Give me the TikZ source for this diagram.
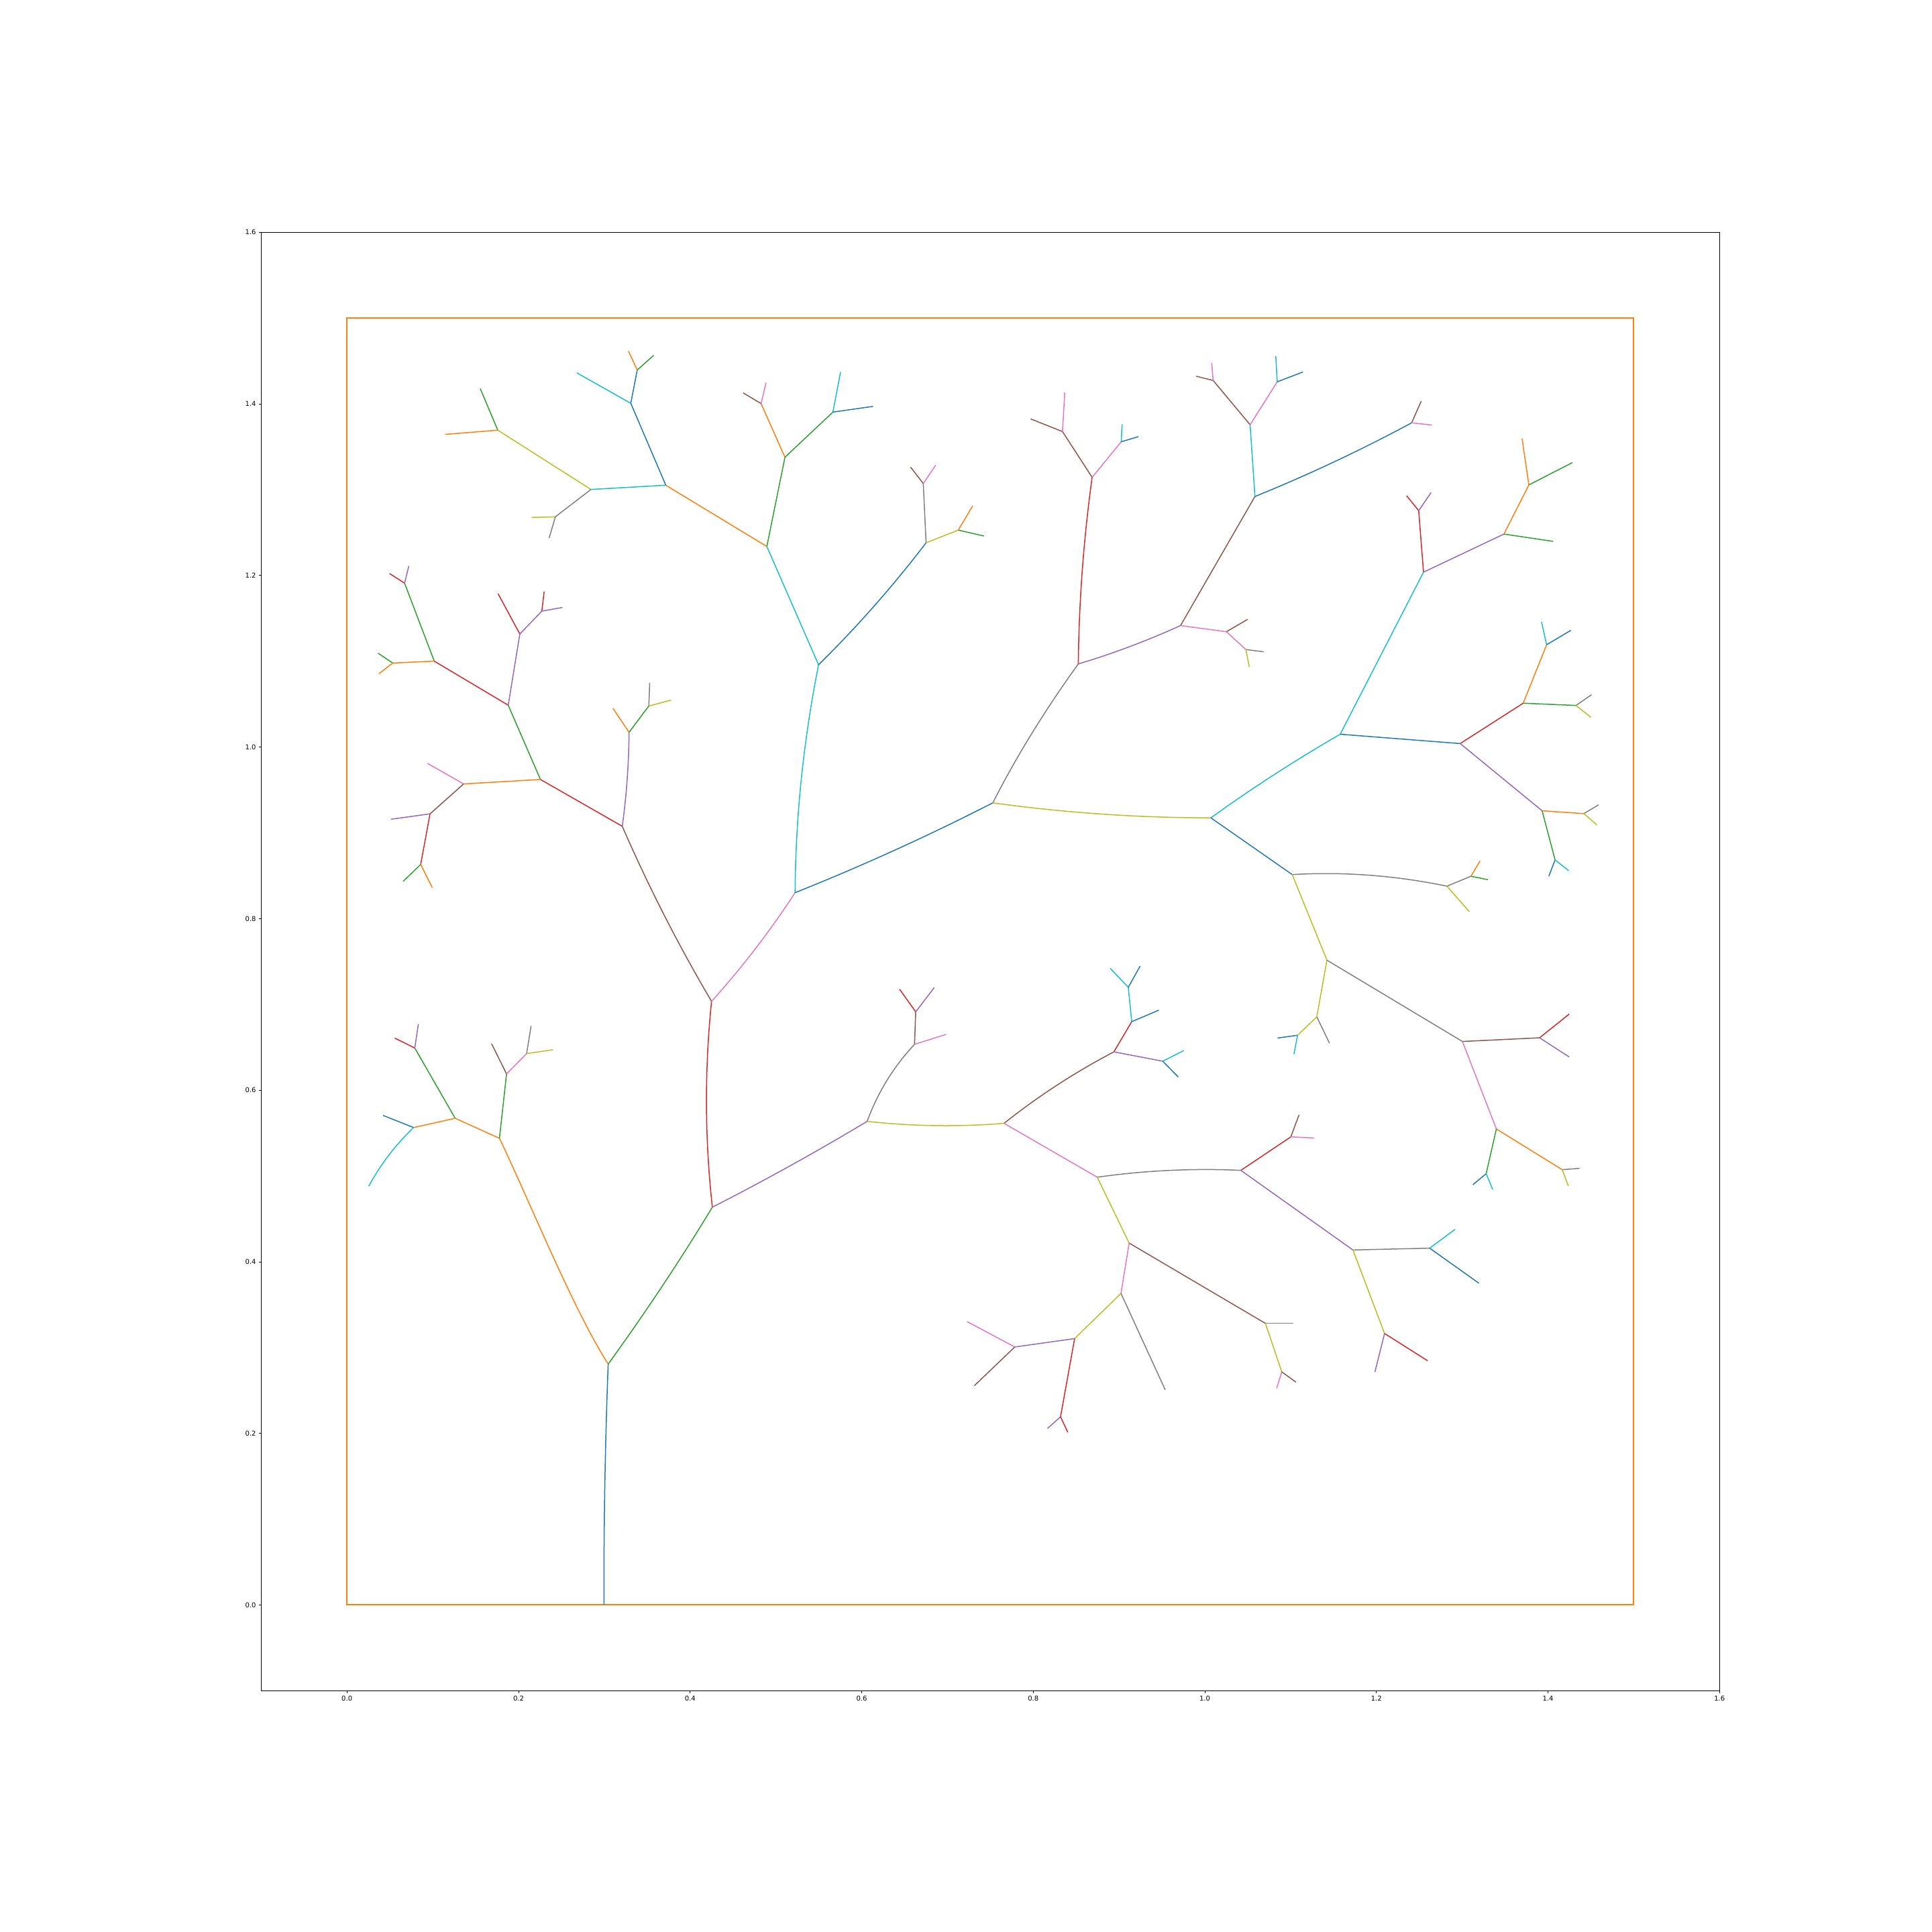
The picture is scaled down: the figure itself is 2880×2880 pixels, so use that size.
\documentclass[tikz,border=0pt]{standalone}
\usepackage{fontspec}
\setmainfont{DejaVu Sans}
\usetikzlibrary{calc}
\definecolor{tabB}{HTML}{1F77B4}
\definecolor{tabO}{HTML}{FF7F0E}
\definecolor{tabG}{HTML}{2CA02C}
\definecolor{tabR}{HTML}{D62728}
\definecolor{tabP}{HTML}{9467BD}
\definecolor{tabN}{HTML}{8C564B}
\definecolor{tabK}{HTML}{E377C2}
\definecolor{tabY}{HTML}{7F7F7F}
\definecolor{tabL}{HTML}{BCBD22}
\definecolor{tabC}{HTML}{17BECF}
\tikzset{
  edg/.style={line width=0.15mm},
  eB/.style={edg,draw=tabB}, eO/.style={edg,draw=tabO}, eG/.style={edg,draw=tabG},
  eR/.style={edg,draw=tabR}, eP/.style={edg,draw=tabP}, eN/.style={edg,draw=tabN},
  eK/.style={edg,draw=tabK}, eY/.style={edg,draw=tabY}, eL/.style={edg,draw=tabL},
  eC/.style={edg,draw=tabC},
  axln/.style={line width=0.08mm,draw=black},
  ticklab/.style={inner sep=0pt,font=\fontsize{2.85pt}{3.4pt}\selectfont,text=black}
}
% quadratic curve: style, from, quadratic control, to
\newcommand\qcurve[4]{\draw[#1] (#2) .. controls ($(#2)!0.6667!(#3)$) and ($(#4)!0.6667!(#3)$) .. (#4);}
\begin{document}
\begin{tikzpicture}[x=0.1mm,y=-0.1mm]
\path[use as bounding box,fill=white] (0,0) rectangle (2880,2880);
% axes frame
\draw[axln] (389.3,346.3) rectangle (2563.3,2520.3);
\foreach \lab [count=\k from 0] in {0.0,0.2,0.4,0.6,0.8,1.0,1.2,1.4,1.6}{
  \draw[axln] ({517.2+255.76*\k},2520.3) -- ({517.2+255.76*\k},2523.8);
  \node[ticklab,anchor=north] (xl\k) at ({517.2+255.76*\k},2527.3) {\lab};
  \draw[axln] (389.3,{2392.4-255.76*\k}) -- (385.8,{2392.4-255.76*\k});
  \node[ticklab,anchor=east] (yl\k) at (382.3,{2392.4-255.76*\k}) {\lab};
}
% orange bounding box
\draw[line width=0.2mm,draw=tabO] (517.2,474.2) rectangle (2435.4,2392.4);
% coordinates
\coordinate (R0) at (900.3,2391.8);
\coordinate (P54) at (906.6,2033.4);
\coordinate (P52) at (744.5,1696.8);
\coordinate (P56) at (1061.9,1799.5);
\coordinate (P50) at (678.5,1667.0);
\coordinate (P53) at (755.1,1600.9);
\coordinate (P49) at (618.3,1562.2);
\coordinate (P51) at (616.6,1680.8);
\coordinate (L8) at (588.4,1547.4);
\coordinate (L9) at (623.7,1526.4);
\coordinate (L10) at (571.1,1662.7);
\coordinate (L11) at (549.7,1768.2);
\coordinate (L12) at (732.8,1555.8);
\coordinate (P55) at (785.0,1570.6);
\coordinate (L14) at (791.7,1529.3);
\coordinate (L15) at (824.5,1564.7);
\coordinate (P46) at (1060.7,1492.7);
\coordinate (P74) at (1292.6,1671.6);
\coordinate (P44) at (927.6,1231.7);
\coordinate (P57) at (1185.2,1330.7);
\coordinate (P35) at (805.6,1161.9);
\coordinate (P42) at (937.7,1091.6);
\coordinate (P36) at (757.6,1051.2);
\coordinate (P45) at (691.1,1168.6);
\coordinate (P39) at (647.3,985.5);
\coordinate (P37) at (774.9,945.1);
\coordinate (P38) at (603.1,869.3);
\coordinate (P40) at (585.4,988.4);
\coordinate (L28) at (580.8,855.0);
\coordinate (L29) at (609.4,843.7);
\coordinate (L30) at (563.6,973.7);
\coordinate (L31) at (564.8,1004.4);
\coordinate (L32) at (742.4,884.9);
\coordinate (P41) at (807.7,911.0);
\coordinate (L34) at (811.1,882.0);
\coordinate (L35) at (838.4,905.5);
\coordinate (L36) at (637.2,1137.9);
\coordinate (P47) at (641.0,1213.2);
\coordinate (L38) at (582.9,1221.2);
\coordinate (P48) at (627.1,1288.6);
\coordinate (L40) at (601.0,1313.8);
\coordinate (L41) at (644.4,1323.1);
\coordinate (L42) at (913.7,1055.8);
\coordinate (P43) at (967.2,1052.4);
\coordinate (L44) at (968.5,1017.9);
\coordinate (L45) at (1000.5,1043.6);
\coordinate (P10) at (1220.2,991.0);
\coordinate (P58) at (1479.9,1196.8);
\coordinate (P4) at (1143.1,814.6);
\coordinate (P11) at (1380.5,809.1);
\coordinate (P1) at (992.5,723.3);
\coordinate (P8) at (1170.1,681.6);
\coordinate (P2) at (880.9,729.6);
\coordinate (P3) at (940.3,601.2);
\coordinate (P5) at (742.0,641.2);
\coordinate (P6) at (827.9,770.4);
\coordinate (L56) at (715.9,579.3);
\coordinate (L57) at (663.7,647.5);
\coordinate (L58) at (792.5,771.3);
\coordinate (L59) at (818.6,802.0);
\coordinate (L60) at (859.9,555.8);
\coordinate (P7) at (949.9,551.6);
\coordinate (L62) at (936.9,523.4);
\coordinate (L63) at (974.4,529.7);
\coordinate (Q1) at (1134.5,601.6);
\coordinate (P9) at (1241.6,614.3);
\coordinate (L66) at (1107.8,585.6);
\coordinate (L67) at (1141.9,570.5);
\coordinate (L68) at (1253.0,554.5);
\coordinate (L69) at (1301.4,605.8);
\coordinate (P12) at (1376.3,720.8);
\coordinate (P13) at (1428.5,790.2);
\coordinate (L72) at (1357.4,696.3);
\coordinate (L73) at (1394.8,693.4);
\coordinate (L74) at (1450.0,754.0);
\coordinate (L75) at (1466.8,799.0);
\coordinate (P14) at (1607.4,989.7);
\coordinate (P59) at (1805.0,1219.1);
\coordinate (P15) at (1628.0,711.5);
\coordinate (P18) at (1759.8,932.5);
\coordinate (P16) at (1583.8,643.3);
\coordinate (P17) at (1671.4,658.5);
\coordinate (L82) at (1536.3,624.4);
\coordinate (L83) at (1587.2,585.2);
\coordinate (L84) at (1672.7,632.4);
\coordinate (L85) at (1697.1,650.9);
\coordinate (P20) at (1870.7,740.1);
\coordinate (P19) at (1828.2,941.7);
\coordinate (L88) at (1859.8,923.2);
\coordinate (P21) at (1857.2,968.2);
\coordinate (L90) at (1883.7,971.6);
\coordinate (L91) at (1862.3,994.3);
\coordinate (P22) at (1863.5,633.2);
\coordinate (P23) at (2104.3,630.3);
\coordinate (P24) at (1808.4,567.1);
\coordinate (P25) at (1903.9,569.2);
\coordinate (L96) at (1783.1,560.8);
\coordinate (L97) at (1806.3,541.0);
\coordinate (L98) at (1901.8,530.9);
\coordinate (L99) at (1942.2,554.5);
\coordinate (L100) at (2118.6,597.9);
\coordinate (L101) at (2134.6,633.6);
\coordinate (P26) at (1997.8,1094.5);
\coordinate (P60) at (1926.3,1303.7);
\coordinate (P27) at (2122.0,852.9);
\coordinate (P31) at (2176.7,1108.4);
\coordinate (P28) at (2114.8,761.2);
\coordinate (P29) at (2241.9,796.1);
\coordinate (L108) at (2096.7,738.9);
\coordinate (L109) at (2133.3,734.2);
\coordinate (P30) at (2279.0,722.9);
\coordinate (L111) at (2315.2,807.0);
\coordinate (L112) at (2268.9,653.8);
\coordinate (L113) at (2343.8,689.6);
\coordinate (P32) at (2270.6,1048.2);
\coordinate (P71) at (2298.8,1208.6);
\coordinate (P33) at (2305.5,961.1);
\coordinate (P34) at (2349.3,1051.6);
\coordinate (L118) at (2297.9,927.0);
\coordinate (L119) at (2341.7,939.6);
\coordinate (L120) at (2372.4,1035.6);
\coordinate (L121) at (2371.6,1069.3);
\coordinate (P72) at (2361.0,1212.8);
\coordinate (P73) at (2318.1,1281.8);
\coordinate (L124) at (2382.9,1199.8);
\coordinate (L125) at (2380.4,1229.6);
\coordinate (L126) at (2308.8,1306.2);
\coordinate (L127) at (2338.3,1297.8);
\coordinate (P61) at (2156.9,1321.0);
\coordinate (P62) at (1978.0,1431.3);
\coordinate (P63) at (2192.7,1306.2);
\coordinate (L131) at (2190.2,1358.9);
\coordinate (L132) at (2206.2,1283.5);
\coordinate (L133) at (2217.9,1311.3);
\coordinate (P64) at (1962.9,1515.8);
\coordinate (P65) at (2180.0,1552.5);
\coordinate (P66) at (1934.3,1543.2);
\coordinate (L137) at (1981.8,1555.0);
\coordinate (L138) at (1904.4,1547.4);
\coordinate (L139) at (1928.8,1571.4);
\coordinate (P67) at (2295.0,1547.0);
\coordinate (P68) at (2230.6,1682.9);
\coordinate (L142) at (2339.2,1511.6);
\coordinate (L143) at (2339.2,1575.6);
\coordinate (P69) at (2328.8,1743.6);
\coordinate (P70) at (2215.4,1749.5);
\coordinate (L146) at (2354.7,1741.6);
\coordinate (L147) at (2337.9,1767.8);
\coordinate (L148) at (2195.6,1766.0);
\coordinate (L149) at (2225.1,1773.1);
\coordinate (P75) at (1363.3,1556.7);
\coordinate (P76) at (1496.7,1674.5);
\coordinate (P77) at (1365.0,1508.3);
\coordinate (L153) at (1410.4,1541.9);
\coordinate (L154) at (1341.0,1474.6);
\coordinate (L155) at (1392.7,1472.1);
\coordinate (P78) at (1660.4,1568.0);
\coordinate (P79) at (1635.6,1754.8);
\coordinate (P80) at (1687.0,1523.0);
\coordinate (P81) at (1733.3,1581.9);
\coordinate (P82) at (1681.9,1471.7);
\coordinate (L161) at (1727.4,1505.8);
\coordinate (L162) at (1655.0,1443.5);
\coordinate (L163) at (1699.6,1440.1);
\coordinate (L164) at (1764.8,1565.9);
\coordinate (L165) at (1756.4,1605.5);
\coordinate (P83) at (1849.7,1744.6);
\coordinate (P84) at (1683.2,1853.0);
\coordinate (P92) at (1924.2,1694.7);
\coordinate (P91) at (2016.8,1863.3);
\coordinate (L170) at (1936.4,1661.9);
\coordinate (L171) at (1959.1,1696.4);
\coordinate (P93) at (2131.2,1860.6);
\coordinate (P94) at (2063.9,1987.8);
\coordinate (L174) at (2169.1,1832.5);
\coordinate (L175) at (2204.5,1912.8);
\coordinate (L176) at (2049.6,2045.0);
\coordinate (L177) at (2128.3,2028.5);
\coordinate (P89) at (1886.3,1972.7);
\coordinate (P85) at (1671.0,1928.0);
\coordinate (L180) at (1927.5,1972.7);
\coordinate (P90) at (1910.7,2045.0);
\coordinate (L182) at (1903.1,2069.5);
\coordinate (L183) at (1931.7,2060.2);
\coordinate (P86) at (1601.9,1995.4);
\coordinate (L185) at (1737.0,2071.8);
\coordinate (P87) at (1512.7,2007.9);
\coordinate (P88) at (1580.9,2111.9);
\coordinate (L188) at (1441.6,1970.0);
\coordinate (L189) at (1452.5,2065.5);
\coordinate (L190) at (1561.5,2129.4);
\coordinate (L191) at (1591.8,2135.2);
% edges
\qcurve{eB}{R0}{899.8,2212.6}{P54}
\draw[eO] (P54) .. controls (852.9,1949.1) and (787.9,1786.9) .. (P52);
\qcurve{eG}{P54}{991.1,1916.5}{P56}
\draw[eO] (P52) -- (P50);
\draw[eG] (P52) -- (P53);
\draw[eG] (P50) -- (P49);
\draw[eO] (P50) -- (P51);
\draw[eR] (P49) -- (L8);
\draw[eP] (P49) -- (L9);
\draw[eB] (P51) -- (L10);
\qcurve{eC}{P51}{576.2,1719.3}{L11}
\draw[eN] (P53) -- (L12);
\draw[eK] (P53) -- (P55);
\draw[eY] (P55) -- (L14);
\draw[eL] (P55) -- (L15);
\qcurve{eR}{P56}{1044.9,1646.1}{P46}
\qcurve{eP}{P56}{1177.3,1740.7}{P74}
\qcurve{eN}{P46}{986.1,1366.3}{P44}
\qcurve{eK}{P46}{1129.3,1416.5}{P57}
\draw[eR] (P44) -- (P35);
\qcurve{eP}{P44}{937.2,1161.7}{P42}
\draw[eG] (P35) -- (P36);
\draw[eO] (P35) -- (P45);
\draw[eR] (P36) -- (P39);
\draw[eP] (P36) -- (P37);
\draw[eG] (P39) -- (P38);
\draw[eO] (P39) -- (P40);
\draw[eR] (P38) -- (L28);
\draw[eP] (P38) -- (L29);
\draw[eG] (P40) -- (L30);
\draw[eO] (P40) -- (L31);
\draw[eR] (P37) -- (L32);
\draw[eP] (P37) -- (P41);
\draw[eR] (P41) -- (L34);
\draw[eP] (P41) -- (L35);
\draw[eK] (P45) -- (L36);
\draw[eN] (P45) -- (P47);
\draw[eP] (P47) -- (L38);
\draw[eR] (P47) -- (P48);
\draw[eG] (P48) -- (L40);
\draw[eO] (P48) -- (L41);
\draw[eO] (P42) -- (L42);
\draw[eG] (P42) -- (P43);
\draw[eY] (P43) -- (L44);
\draw[eL] (P43) -- (L45);
\qcurve{eC}{P57}{1186.4,1160.9}{P10}
\qcurve{eB}{P57}{1335.6,1270.6}{P58}
\draw[eC] (P10) -- (P4);
\qcurve{eB}{P10}{1306.7,905.7}{P11}
\draw[eO] (P4) -- (P1);
\draw[eG] (P4) -- (P8);
\draw[eC] (P1) -- (P2);
\draw[eB] (P1) -- (P3);
\draw[eL] (P2) -- (P5);
\draw[eY] (P2) -- (P6);
\draw[eG] (P5) -- (L56);
\draw[eO] (P5) -- (L57);
\draw[eL] (P6) -- (L58);
\draw[eY] (P6) -- (L59);
\draw[eC] (P3) -- (L60);
\draw[eB] (P3) -- (P7);
\draw[eO] (P7) -- (L62);
\draw[eG] (P7) -- (L63);
\draw[eO] (P8) -- (Q1);
\draw[eG] (P8) -- (P9);
\draw[eN] (Q1) -- (L66);
\draw[eK] (Q1) -- (L67);
\draw[eC] (P9) -- (L68);
\draw[eB] (P9) -- (L69);
\draw[eY] (P11) -- (P12);
\draw[eL] (P11) -- (P13);
\draw[eN] (P12) -- (L72);
\draw[eK] (P12) -- (L73);
\draw[eO] (P13) -- (L74);
\draw[eG] (P13) -- (L75);
\qcurve{eY}{P58}{1532.6,1093.3}{P14}
\qcurve{eL}{P58}{1642.5,1219.1}{P59}
\qcurve{eR}{P14}{1608.9,850.6}{P15}
\qcurve{eP}{P14}{1683.6,967.0}{P18}
\draw[eN] (P15) -- (P16);
\draw[eK] (P15) -- (P17);
\draw[eN] (P16) -- (L82);
\draw[eK] (P16) -- (L83);
\draw[eC] (P17) -- (L84);
\draw[eB] (P17) -- (L85);
\draw[eN] (P18) -- (P20);
\draw[eK] (P18) -- (P19);
\draw[eN] (P19) -- (L88);
\draw[eK] (P19) -- (P21);
\draw[eY] (P21) -- (L90);
\draw[eL] (P21) -- (L91);
\draw[eC] (P20) -- (P22);
\qcurve{eB}{P20}{1990.5,691.5}{P23}
\draw[eN] (P22) -- (P24);
\draw[eK] (P22) -- (P25);
\draw[eN] (P24) -- (L96);
\draw[eK] (P24) -- (L97);
\draw[eC] (P25) -- (L98);
\draw[eB] (P25) -- (L99);
\draw[eN] (P23) -- (L100);
\draw[eK] (P23) -- (L101);
\qcurve{eC}{P59}{1898.3,1152.0}{P26}
\draw[eB] (P59) -- (P60);
\draw[eC] (P26) -- (P27);
\draw[eB] (P26) -- (P31);
\draw[eR] (P27) -- (P28);
\draw[eP] (P27) -- (P29);
\draw[eR] (P28) -- (L108);
\draw[eP] (P28) -- (L109);
\draw[eO] (P29) -- (P30);
\draw[eG] (P29) -- (L111);
\draw[eO] (P30) -- (L112);
\draw[eG] (P30) -- (L113);
\draw[eR] (P31) -- (P32);
\draw[eP] (P31) -- (P71);
\draw[eO] (P32) -- (P33);
\draw[eG] (P32) -- (P34);
\draw[eC] (P33) -- (L118);
\draw[eB] (P33) -- (L119);
\draw[eY] (P34) -- (L120);
\draw[eL] (P34) -- (L121);
\draw[eO] (P71) -- (P72);
\draw[eG] (P71) -- (P73);
\draw[eY] (P72) -- (L124);
\draw[eL] (P72) -- (L125);
\draw[eB] (P73) -- (L126);
\draw[eC] (P73) -- (L127);
\qcurve{eY}{P60}{2041.6,1297.0}{P61}
\draw[eL] (P60) -- (P62);
\draw[eY] (P61) -- (P63);
\draw[eL] (P61) -- (L131);
\draw[eO] (P63) -- (L132);
\draw[eG] (P63) -- (L133);
\draw[eL] (P62) -- (P64);
\draw[eY] (P62) -- (P65);
\draw[eL] (P64) -- (P66);
\draw[eY] (P64) -- (L137);
\draw[eB] (P66) -- (L138);
\draw[eC] (P66) -- (L139);
\draw[eN] (P65) -- (P67);
\draw[eK] (P65) -- (P68);
\draw[eR] (P67) -- (L142);
\draw[eP] (P67) -- (L143);
\draw[eO] (P68) -- (P69);
\draw[eG] (P68) -- (P70);
\draw[eY] (P69) -- (L146);
\draw[eL] (P69) -- (L147);
\draw[eB] (P70) -- (L148);
\draw[eC] (P70) -- (L149);
\qcurve{eY}{P74}{1316.3,1607.0}{P75}
\qcurve{eL}{P74}{1394.7,1682.7}{P76}
\draw[eN] (P75) -- (P77);
\draw[eK] (P75) -- (L153);
\draw[eR] (P77) -- (L154);
\draw[eP] (P77) -- (L155);
\qcurve{eN}{P76}{1573.5,1613.5}{P78}
\draw[eK] (P76) -- (P79);
\draw[eR] (P78) -- (P80);
\draw[eP] (P78) -- (P81);
\draw[eC] (P80) -- (P82);
\draw[eB] (P80) -- (L161);
\draw[eC] (P82) -- (L162);
\draw[eB] (P82) -- (L163);
\draw[eC] (P81) -- (L164);
\draw[eB] (P81) -- (L165);
\qcurve{eY}{P79}{1742.7,1739.7}{P83}
\draw[eL] (P79) -- (P84);
\draw[eR] (P83) -- (P92);
\draw[eP] (P83) -- (P91);
\draw[eN] (P92) -- (L170);
\draw[eK] (P92) -- (L171);
\draw[eY] (P91) -- (P93);
\draw[eL] (P91) -- (P94);
\draw[eC] (P93) -- (L174);
\draw[eB] (P93) -- (L175);
\draw[eP] (P94) -- (L176);
\draw[eR] (P94) -- (L177);
\draw[eN] (P84) -- (P89);
\draw[eK] (P84) -- (P85);
\draw[eY] (P89) -- (L180);
\draw[eL] (P89) -- (P90);
\draw[eK] (P90) -- (L182);
\draw[eN] (P90) -- (L183);
\draw[eL] (P85) -- (P86);
\draw[eY] (P85) -- (L185);
\draw[eP] (P86) -- (P87);
\draw[eR] (P86) -- (P88);
\draw[eK] (P87) -- (L188);
\draw[eN] (P87) -- (L189);
\draw[eP] (P88) -- (L190);
\draw[eR] (P88) -- (L191);
\end{tikzpicture}
\end{document}
